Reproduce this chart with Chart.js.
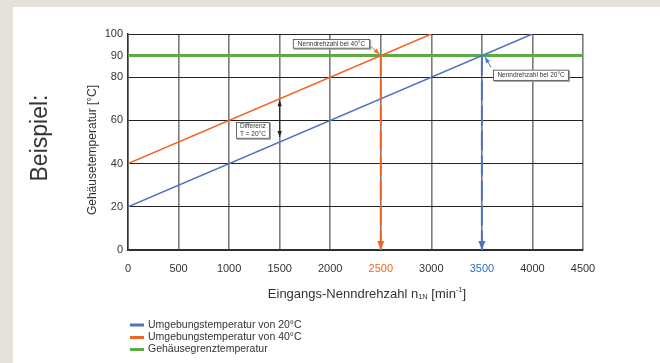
<!DOCTYPE html>
<html>
<head>
<meta charset="utf-8">
<script src="https://cdn.jsdelivr.net/npm/chart.js@4"></script>
<style>
  html, body { margin: 0; padding: 0; background: #fff; }
  canvas { display: block; }
</style>
</head>
<body>
<canvas id="chart" width="660" height="363"></canvas>
<script>
// Achsen
const xTicks = [0, 500, 1000, 1500, 2000, 2500, 3000, 3500, 4000, 4500];
const yTicks = [0, 20, 40, 60, 80, 90, 100];

// Kennlinien (Drehzahl / Temperatur)
const umgebung20X = [0, 4000];
const umgebung20Y = [20, 100];
const umgebung40X = [0, 3000];
const umgebung40Y = [40, 100];
const grenzX = [0, 4500];
const grenzY = [90, 90];

// Nenndrehzahlen (senkrechte Pfeile)
const nenn40X = [2500, 2500];
const nenn40Y = [90, 0];
const nenn20X = [3500, 3500];
const nenn20Y = [90, 0];

const legendLabels = [
  "Umgebungstemperatur von 20°C",
  "Umgebungstemperatur von 40°C",
  "Gehäusegrenztemperatur"
];

const BLUE = "#5072c0";
const ORANGE = "#f26424";
const GREEN = "#5ea845";
const TEXT = "#333333";
const FONT = "'Liberation Sans', Arial, sans-serif";

function pts(xs, ys) {
  return xs.map((x, i) => ({ x: x, y: ys[i] }));
}

function arrowHead(ctx, x1, y1, x2, y2, len, half, color) {
  let a = Math.atan2(y2 - y1, x2 - x1);
  ctx.save();
  ctx.fillStyle = color;
  ctx.beginPath();
  ctx.moveTo(x2, y2);
  ctx.lineTo(x2 - len * Math.cos(a) + half * Math.sin(a), y2 - len * Math.sin(a) - half * Math.cos(a));
  ctx.lineTo(x2 - len * Math.cos(a) - half * Math.sin(a), y2 - len * Math.sin(a) + half * Math.cos(a));
  ctx.closePath();
  ctx.fill();
  ctx.restore();
}

function arrow(ctx, x1, y1, x2, y2, color, both) {
  ctx.save();
  ctx.strokeStyle = color;
  ctx.lineWidth = 1;
  ctx.beginPath();
  ctx.moveTo(x1, y1);
  ctx.lineTo(x2, y2);
  ctx.stroke();
  ctx.restore();
  arrowHead(ctx, x1, y1, x2, y2, 6, 2.2, color);
  if (both) arrowHead(ctx, x2, y2, x1, y1, 6, 2.2, color);
}

// Hinweiskaesten in Datenkoordinaten
const notes = [
  { lines: ["Nenndrehzahl bei 40°C"], x: [1630, 2395], y: [97.7, 93.2] },
  { lines: ["Nenndrehzahl bei 20°C"], x: [3610, 4362], y: [83.5, 78.3] },
  { lines: ["Differenz", "T = 20°C"], x: [1067, 1403], y: [59.3, 51.5] }
];

const deko = {
  id: "deko",
  beforeDraw(chart) {
    const ctx = chart.ctx;
    ctx.save();
    ctx.fillStyle = "#e5e1db";
    ctx.fillRect(0, 0, chart.width, chart.height);
    ctx.fillStyle = "#ffffff";
    ctx.fillRect(13, 7, chart.width - 13, chart.height - 7);
    ctx.restore();
  },
  afterDatasetsDraw(chart) {
    const ctx = chart.ctx;
    const xs = chart.scales.x, ys = chart.scales.y;

    // Pfeilspitzen der senkrechten Linien
    arrowHead(ctx, xs.getPixelForValue(nenn40X[1]), ys.getPixelForValue(20),
      xs.getPixelForValue(nenn40X[1]), ys.getPixelForValue(nenn40Y[1]), 9, 3.5, ORANGE);
    arrowHead(ctx, xs.getPixelForValue(nenn20X[1]), ys.getPixelForValue(20),
      xs.getPixelForValue(nenn20X[1]), ys.getPixelForValue(nenn20Y[1]), 9, 3.5, BLUE);

    // kleine Hinweispfeile
    arrow(ctx, xs.getPixelForValue(2395), ys.getPixelForValue(94.6),
      xs.getPixelForValue(2488), ys.getPixelForValue(90.6), ORANGE, false);
    arrow(ctx, xs.getPixelForValue(3590), ys.getPixelForValue(84.6),
      xs.getPixelForValue(3530), ys.getPixelForValue(89.4), BLUE, false);
    arrow(ctx, xs.getPixelForValue(1500), ys.getPixelForValue(69.3),
      xs.getPixelForValue(1500), ys.getPixelForValue(52.3), "#222222", true);

    // Kaesten
    notes.forEach(n => {
      let l = xs.getPixelForValue(n.x[0]), r = xs.getPixelForValue(n.x[1]);
      let t = ys.getPixelForValue(n.y[0]), b = ys.getPixelForValue(n.y[1]);
      ctx.save();
      ctx.fillStyle = "#9a9a9a";
      ctx.fillRect(l + 1, t + 1, r - l, b - t);
      ctx.fillStyle = "#ffffff";
      ctx.fillRect(l, t, r - l, b - t);
      ctx.strokeStyle = "#444444";
      ctx.lineWidth = 0.8;
      ctx.strokeRect(l + 0.5, t + 0.5, r - l - 1, b - t - 1);
      ctx.fillStyle = TEXT;
      ctx.font = "6.5px " + FONT;
      ctx.textAlign = "center";
      ctx.textBaseline = "middle";
      let lh = 7.5;
      let cy = (t + b) / 2 - (n.lines.length - 1) * lh / 2;
      n.lines.forEach((s, i) => ctx.fillText(s, (l + r) / 2, cy + i * lh));
      ctx.restore();
    });
  },
  afterDraw(chart) {
    const ctx = chart.ctx;
    ctx.save();
    ctx.fillStyle = TEXT;
    ctx.textAlign = "center";
    ctx.textBaseline = "middle";

    // Beispiel:
    ctx.save();
    ctx.translate(41, 138);
    ctx.rotate(-Math.PI / 2);
    ctx.font = "23px " + FONT;
    ctx.fillText("Beispiel:", 0, 0);
    ctx.restore();

    // y-Achsentitel
    ctx.save();
    ctx.translate(93, 150);
    ctx.rotate(-Math.PI / 2);
    ctx.font = "12px " + FONT;
    ctx.fillText("Gehäusetemperatur [°C]", 0, 0);
    ctx.restore();

    // x-Achsentitel mit Index/Exponent
    const parts = [
      { s: "Eingangs-Nenndrehzahl n", size: 13, dy: 0 },
      { s: "1N", size: 7.5, dy: 3 },
      { s: " [min", size: 13, dy: 0 },
      { s: "-1", size: 7.5, dy: -4 },
      { s: "]", size: 13, dy: 0 }
    ];
    let total = 0;
    parts.forEach(p => { ctx.font = p.size + "px " + FONT; p.w = ctx.measureText(p.s).width; total += p.w; });
    let x = 367 - total / 2;
    ctx.textAlign = "left";
    parts.forEach(p => {
      ctx.font = p.size + "px " + FONT;
      ctx.fillText(p.s, x, 294 + p.dy);
      x += p.w;
    });

    // Legende
    const cols = [BLUE, ORANGE, GREEN];
    const rowsY = [325, 337.5, 349.5];
    ctx.font = "10.5px " + FONT;
    legendLabels.forEach((s, i) => {
      ctx.fillStyle = cols[i];
      ctx.fillRect(130, rowsY[i] - 1.5, 14, 3);
      ctx.fillStyle = TEXT;
      ctx.fillText(s, 148, rowsY[i]);
    });
    ctx.restore();
  }
};

const ctx = document.getElementById("chart").getContext("2d");
Chart.defaults.font.family = FONT;

new Chart(ctx, {
  type: "scatter",
  data: {
    datasets: [
      { data: pts(grenzX, grenzY), borderColor: GREEN, borderWidth: 3, order: 5 },
      { data: pts(umgebung20X, umgebung20Y), borderColor: BLUE, borderWidth: 1.5, order: 3 },
      { data: pts(umgebung40X, umgebung40Y), borderColor: ORANGE, borderWidth: 1.5, order: 3 },
      { data: pts(nenn40X, nenn40Y), borderColor: ORANGE, borderWidth: 2, borderDash: [20, 5], order: 1 },
      { data: pts(nenn20X, nenn20Y), borderColor: BLUE, borderWidth: 2, borderDash: [20, 5], order: 1 }
    ]
  },
  options: {
    responsive: false,
    animation: false,
    showLine: true,
    elements: { point: { radius: 0 }, line: { tension: 0 } },
    layout: { padding: { top: 34, right: 77, left: 0, bottom: 0 } },
    plugins: { legend: { display: false }, tooltip: { enabled: false } },
    scales: {
      x: {
        type: "linear",
        min: 0,
        max: 4500,
        afterBuildTicks: s => { s.ticks = xTicks.map(v => ({ value: v })); },
        afterFit: s => { s.height = 113; },
        grid: { color: "#7a7a7a", lineWidth: 1.6, drawTicks: false },
        border: { color: "#333333", width: 1.5 },
        ticks: {
          padding: 12,
          font: { size: 11 },
          callback: v => String(v),
          color: c => c.tick && c.tick.value === 2500 ? ORANGE : (c.tick && c.tick.value === 3500 ? "#2f6fc2" : TEXT)
        }
      },
      y: {
        type: "linear",
        min: 0,
        max: 100,
        afterBuildTicks: s => { s.ticks = yTicks.map(v => ({ value: v })); },
        afterFit: s => { s.width = 128; },
        grid: { color: "#222222", lineWidth: 1, drawTicks: false },
        border: { color: "#333333", width: 1.5 },
        ticks: { padding: 5, font: { size: 11 }, color: TEXT, callback: v => String(v) }
      }
    }
  },
  plugins: [deko]
});
</script>
</body>
</html>
